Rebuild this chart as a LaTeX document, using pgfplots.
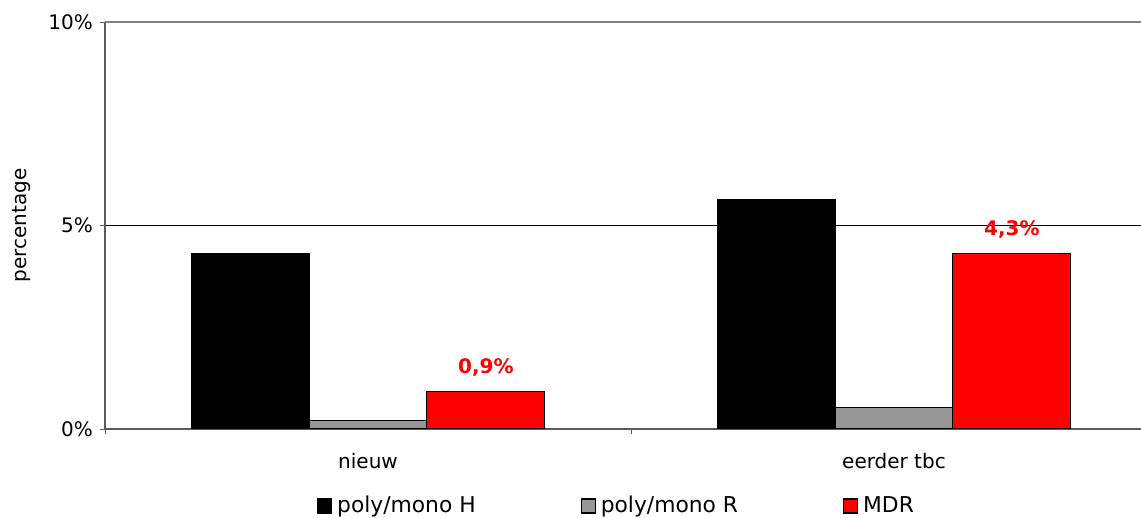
\documentclass[border=0pt]{standalone}
\usepackage{fontspec}
\setmainfont{DejaVu Sans}
\usepackage{pgfplots}
\pgfplotsset{compat=1.18}
\definecolor{barred}{RGB}{255,0,0}
\definecolor{bargray}{RGB}{150,150,150}
\definecolor{axisgray}{RGB}{90,90,90}

\begin{document}
\begin{tikzpicture}[font=\fontsize{10}{12}\selectfont]
\begin{axis}[
  scale only axis, width=518pt, height=203.5pt,
  ybar=0pt, bar width=0.224,
  xmin=-0.5, xmax=1.4696, ymin=0, ymax=10,
  axis x line*=bottom, axis y line*=left,
  axis line style={axisgray, line width=0.6pt},
  tick align=outside,
  xtick={0,1}, xticklabels={nieuw,eerder tbc},
  major x tick style={draw=none},
  xticklabel style={yshift=-6pt},
  extra x ticks={-0.5,0.5}, extra x tick labels={},
  extra x tick style={major tick length=2.5pt, major x tick style={draw=axisgray, thin}},
  ytick={0,5,10}, yticklabels={0\%,5\%,10\%},
  major y tick style={draw=axisgray, thin},
  major tick length=2.5pt,
  ymajorgrids, grid style={black, line width=0.5pt},
  ylabel={percentage},
  ylabel style={at={(axis description cs:0,0.5)}, anchor=center, yshift=41.5pt},
  legend style={draw=none, at={(0.5,0)}, anchor=center, yshift=-38.5pt, xshift=-2.75pt,
    font=\fontsize{10.9}{13}\selectfont,
    legend columns=3, /tikz/every even column/.append style={column sep=50.5pt},
    cells={anchor=west}, inner sep=0pt},
  legend image code/.code={\draw[#1, line width=0.6pt] (0pt,-3.5pt) rectangle (7pt,3.5pt);
    \path (7.5pt,0pt);},
]
\addplot[fill=black, draw=black, line width=0.5pt] coordinates {(0,4.30) (1,5.65)};
\addplot[fill=bargray, draw=black, line width=0.5pt] coordinates {(0,0.20) (1,0.54)};
\addplot[fill=barred, draw=black, line width=0.5pt, nodes near coords, point meta=explicit symbolic,
  every node near coord/.append style={font=\fontsize{10}{12}\selectfont\bfseries, text=barred, yshift=4pt}]
  coordinates {(0,0.92) [0,9\%] (1,4.30) [4,3\%]};
\legend{poly/mono H, poly/mono R, MDR}
\draw[gray, line width=1pt] (axis cs:-0.5,10) -- (axis cs:1.4696,10);
\end{axis}
\pgfresetboundingbox
\path[use as bounding box] ([xshift=-52.5pt,yshift=-44.5pt]current axis.south west) rectangle ([yshift=11pt]current axis.north east);
\end{tikzpicture}
\end{document}
